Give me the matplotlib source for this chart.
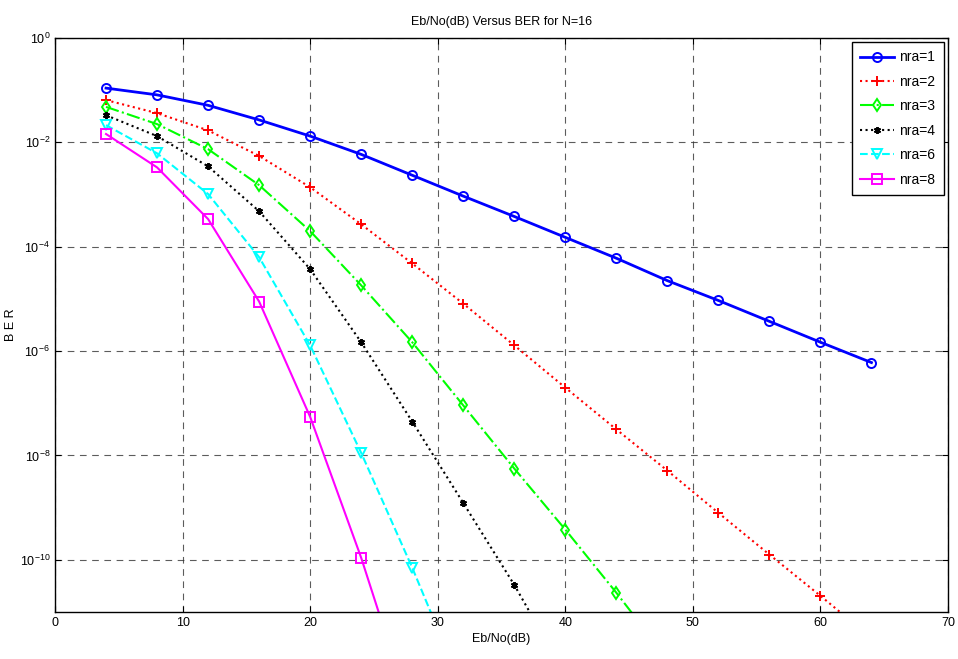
import matplotlib.pyplot as plt
import numpy as np

plt.rcParams['font.family'] = ['Liberation Sans', 'DejaVu Sans']

# Eb/No points (dB)
ebno = [4, 8, 12, 16, 20, 24, 28, 32, 36, 40, 44, 48, 52, 56, 60, 64]

# log10(BER)
ber1 = [-0.96, -1.09, -1.29, -1.57, -1.88, -2.23, -2.63, -3.03, -3.42, -3.82,
        -4.22, -4.65, -5.03, -5.43, -5.83, -6.22]
ber2 = [-1.19, -1.44, -1.77, -2.26, -2.86, -3.57, -4.32, -5.09, -5.89, -6.70,
        -7.50, -8.29, -9.10, -9.90, -10.69, -11.5]
ber3 = [-1.32, -1.65, -2.13, -2.82, -3.70, -4.74, -5.83, -7.04, -8.25, -9.42,
        -10.63, -11.9]
ber4 = [-1.48, -1.88, -2.46, -3.32, -4.43, -5.83, -7.35, -8.91, -10.48, -12.2]
ber6 = [-1.67, -2.21, -2.99, -4.20, -5.89, -7.95, -10.15, -12.5]
ber8 = [-1.84, -2.48, -3.47, -5.05, -7.26, -9.96, -13.0]

labels = ['nra=1', 'nra=2', 'nra=3', 'nra=4', 'nra=6', 'nra=8']
series = [ber1, ber2, ber3, ber4, ber6, ber8]
colors = ['#0000ff', '#ff0000', '#00ff00', '#000000', '#00ffff', '#ff00ff']
styles = ['-', ':', '-.', ':', '--', '-']
markers = ['o', '+', 'd', (6, 2, 0), 'v', 's']
widths = [2.0, 1.5, 1.5, 1.5, 1.5, 1.5]

fig = plt.figure(figsize=(9.58, 6.59), dpi=100)
ax = fig.add_axes([55 / 958, 1 - 612 / 659, 893 / 958, 574 / 659])

for y, lab, c, ls, m, lw in zip(series, labels, colors, styles, markers, widths):
    x = ebno[:len(y)]
    ms = 5 if m == (6, 2, 0) else 6.5
    ax.semilogy(x, 10 ** np.array(y), color=c, linestyle=ls, linewidth=lw,
                marker=m, markersize=ms, markerfacecolor='none',
                markeredgecolor=c, markeredgewidth=1.4, label=lab)

ax.set_xlim(0, 70)
ax.set_ylim(1e-11, 1)
ax.set_xticks(np.arange(0, 71, 10))
ax.set_yticks([10.0 ** k for k in range(-10, 1, 2)])
ax.minorticks_off()
ax.tick_params(direction='in', top=True, right=True, labelsize=9, length=4)
ax.grid(True, which='major', color='#333333', linestyle=(0, (6, 5)),
        linewidth=0.8, alpha=0.8)
for s in ax.spines.values():
    s.set_linewidth(1.0)

ax.set_title('Eb/No(dB) Versus BER for N=16', fontsize=9, pad=9)
ax.set_xlabel('Eb/No(dB)', fontsize=9, labelpad=3)
ax.set_ylabel('B E R', fontsize=9, labelpad=2)

leg = ax.legend(loc='upper right', fontsize=10, fancybox=False,
                edgecolor='black', framealpha=1, handlelength=2.4,
                handletextpad=0.4, borderpad=0.6, labelspacing=0.75,
                borderaxespad=0.3)
leg.get_frame().set_linewidth(1.0)

fig.savefig('out.png', dpi=100)
